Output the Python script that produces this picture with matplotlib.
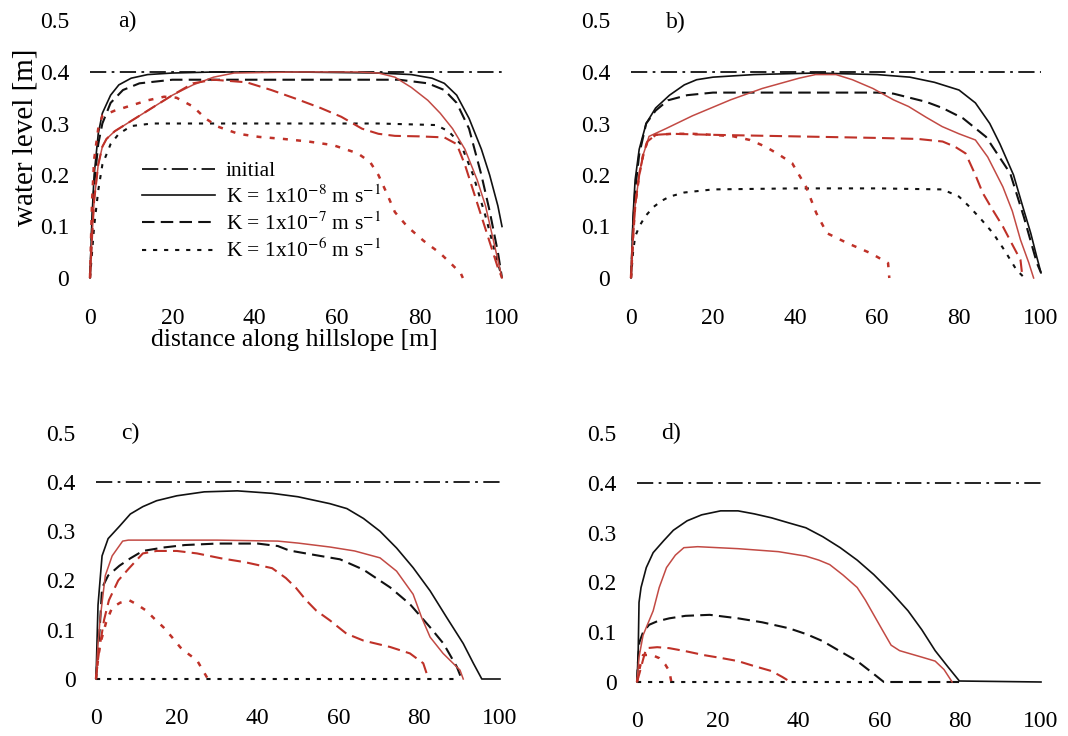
import matplotlib
matplotlib.use("Agg")
import matplotlib.pyplot as plt
from matplotlib.lines import Line2D

plt.rcParams["font.family"] = ["Liberation Serif", "DejaVu Serif"]
plt.rcParams["mathtext.fontset"] = "stix"

# ---------------- data ----------------
X_TICKS = [0, 20, 40, 60, 80, 100]
Y_TICKS = [0, 0.1, 0.2, 0.3, 0.4, 0.5]
Y_TICK_LABELS = ["0", "0.1", "0.2", "0.3", "0.4", "0.5"]
INITIAL_X = [0, 100]
INITIAL_Y = [0.4, 0.4]
LEGEND_LABELS = ["initial",
                 r"K = 1x10$^{-8}$ m s$^{-1}$",
                 r"K = 1x10$^{-7}$ m s$^{-1}$",
                 r"K = 1x10$^{-6}$ m s$^{-1}$"]

# panel a
a_k8_x = [0, 0.5, 1, 2, 3, 5, 7, 10, 14, 20, 30, 50, 70, 78, 83, 86, 89, 92, 95, 97, 99, 100]
a_k8_y = [0, 0.12, 0.2, 0.28, 0.32, 0.355, 0.375, 0.388, 0.395, 0.398, 0.4, 0.4, 0.398, 0.395,
          0.388, 0.378, 0.355, 0.31, 0.25, 0.2, 0.14, 0.1]
a_k7_x = [0, 0.5, 1, 2, 3, 5, 8, 12, 20, 40, 60, 75, 82, 86, 89, 92, 95, 97, 99, 100]
a_k7_y = [0, 0.1, 0.18, 0.26, 0.3, 0.34, 0.365, 0.378, 0.385, 0.385, 0.385, 0.385, 0.378,
          0.365, 0.34, 0.29, 0.2, 0.13, 0.05, 0.0]
a_k6_x = [0, 1, 2, 3, 5, 7, 10, 15, 30, 50, 70, 84, 87, 90, 93, 96, 98, 100]
a_k6_y = [0, 0.1, 0.17, 0.22, 0.26, 0.28, 0.295, 0.3, 0.3, 0.3, 0.3, 0.297, 0.285, 0.26, 0.2,
          0.12, 0.06, 0.0]
a_r8_x = [0, 0.5, 1, 2, 3, 4, 6, 10, 15, 20, 25, 30, 35, 50, 65, 70, 74, 78, 82, 85, 88, 91,
          94, 96, 98, 100]
a_r8_y = [0, 0.08, 0.15, 0.22, 0.255, 0.27, 0.285, 0.305, 0.33, 0.355, 0.375, 0.39, 0.398, 0.4,
          0.4, 0.398, 0.39, 0.37, 0.345, 0.32, 0.29, 0.25, 0.19, 0.14, 0.07, 0.0]
a_r7_x = [0, 0.5, 1, 2, 3, 4, 6, 10, 15, 20, 25, 30, 38, 44, 50, 56, 61, 66, 70, 74, 80, 86,
          89, 91, 93, 95, 97, 99, 100]
a_r7_y = [0, 0.08, 0.15, 0.22, 0.255, 0.27, 0.285, 0.305, 0.33, 0.355, 0.378, 0.385, 0.38,
          0.365, 0.348, 0.33, 0.313, 0.29, 0.28, 0.276, 0.275, 0.273, 0.26, 0.22, 0.17, 0.12,
          0.07, 0.02, 0.0]
a_r6_x = [0, 0.5, 1, 2, 3, 6, 10, 14, 18, 21, 25, 28, 31, 36, 41, 47, 53, 59, 65, 68, 70, 72,
          74, 77, 81, 85, 88, 90, 90.5]
a_r6_y = [0, 0.15, 0.23, 0.29, 0.315, 0.325, 0.335, 0.345, 0.352, 0.35, 0.333, 0.31, 0.294,
          0.28, 0.274, 0.27, 0.265, 0.258, 0.242, 0.225, 0.2, 0.165, 0.128, 0.1, 0.072, 0.048,
          0.025, 0.009, 0.0]

# panel b
b_k8_x = [0, 0.5, 1, 2, 3.7, 6, 9.4, 13, 16, 20, 30, 45, 60, 68, 74, 80, 84, 87.5, 90, 93.3,
          95.5, 97.5, 99, 100]
b_k8_y = [0, 0.12, 0.19, 0.25, 0.3, 0.33, 0.355, 0.375, 0.385, 0.39, 0.395, 0.398, 0.395,
          0.39, 0.38, 0.365, 0.34, 0.3, 0.26, 0.2, 0.14, 0.087, 0.04, 0.01]
b_k7_x = [0, 0.5, 1, 2, 3.7, 6, 9, 13.7, 20, 30, 45, 60, 64, 68, 72, 76, 81, 86.6, 92.5, 95.8,
          99, 100]
b_k7_y = [0, 0.1, 0.17, 0.24, 0.3, 0.325, 0.345, 0.355, 0.36, 0.36, 0.36, 0.36, 0.358, 0.35,
          0.342, 0.33, 0.31, 0.274, 0.203, 0.119, 0.029, 0.01]
b_k6_x = [0, 0.5, 1, 2, 3.5, 5.5, 7.5, 9.4, 13, 20, 40, 60, 76, 80, 82.6, 85.5, 88.3, 91, 94, 96]
b_k6_y = [0, 0.05, 0.08, 0.1, 0.12, 0.138, 0.15, 0.158, 0.166, 0.172, 0.174, 0.174, 0.172,
          0.158, 0.138, 0.113, 0.087, 0.055, 0.016, 0.0]
b_r8_x = [0, 0.5, 1, 2, 3, 4.4, 8.5, 15, 24.3, 32, 41, 45, 50, 54, 59, 64, 67.7, 72, 75.9, 80,
          84, 87, 90.7, 93, 95, 97, 98.2]
b_r8_y = [0, 0.08, 0.14, 0.2, 0.24, 0.275, 0.29, 0.315, 0.346, 0.368, 0.388, 0.395, 0.395,
          0.385, 0.368, 0.346, 0.333, 0.312, 0.294, 0.28, 0.268, 0.235, 0.177, 0.13, 0.074,
          0.03, 0.0]
b_r7_x = [0, 0.5, 1, 2, 3, 4, 6, 10, 20, 40, 60, 70, 76, 79, 81.6, 84, 85.8, 88, 90.7, 93, 95,
          95.5]
b_r7_y = [0, 0.08, 0.14, 0.2, 0.24, 0.265, 0.278, 0.28, 0.278, 0.275, 0.272, 0.27, 0.265,
          0.255, 0.242, 0.2, 0.165, 0.135, 0.1, 0.065, 0.035, 0.0]
b_r6_x = [0, 0.5, 1, 2, 3, 4, 6, 10, 15, 20, 25, 29, 32.8, 36, 39.3, 41, 42.7, 45.2, 47.8,
          52.7, 58.5, 62.7, 63]
b_r6_y = [0, 0.08, 0.14, 0.2, 0.24, 0.265, 0.278, 0.28, 0.28, 0.278, 0.275, 0.268, 0.255,
          0.24, 0.223, 0.2, 0.177, 0.126, 0.087, 0.068, 0.048, 0.029, 0.0]

# panel c
c_k8_x = [0, 0.5, 1.5, 3, 5.8, 8.5, 11.6, 15, 20, 26.8, 35, 43.6, 50, 57.9, 62.1, 66.2, 70.3,
          74.4, 78.5, 82.7, 86.8, 90.9, 93.4, 95.5, 100]
c_k8_y = [0, 0.15, 0.25, 0.285, 0.31, 0.335, 0.35, 0.362, 0.372, 0.38, 0.382, 0.377, 0.37,
          0.356, 0.346, 0.326, 0.3, 0.266, 0.226, 0.179, 0.125, 0.072, 0.032, 0.0, 0.0]
c_k7_x = [0, 0.5, 0.9, 1.5, 3, 5.8, 8.5, 11.6, 16.7, 22, 30, 40, 45, 47.8, 54, 60.4, 66.2,
          72.8, 77.7, 82.7, 86, 89.3, 90.5]
c_k7_y = [0, 0.06, 0.1, 0.185, 0.21, 0.23, 0.245, 0.26, 0.267, 0.272, 0.275, 0.275, 0.27,
          0.261, 0.252, 0.243, 0.222, 0.186, 0.152, 0.105, 0.072, 0.025, 0.0]
c_k6_x = [0, 90]
c_k6_y = [0, 0]
c_r8_x = [0, 0.5, 1, 2.3, 4, 6.6, 8, 20, 30, 45, 50, 57.9, 64, 70.3, 74.4, 78.5, 80.6, 82.7,
          85.9, 90.1, 90.9]
c_r8_y = [0, 0.07, 0.12, 0.21, 0.25, 0.28, 0.282, 0.282, 0.282, 0.28, 0.276, 0.268, 0.26,
          0.246, 0.219, 0.172, 0.125, 0.085, 0.052, 0.018, 0.0]
c_r7_x = [0, 0.5, 1, 2, 3.2, 5.5, 8.2, 11.6, 15, 20, 25, 31, 37, 43.6, 47, 49.5, 52, 54.5,
          57.9, 62, 66.2, 72.8, 77.7, 81, 82.3]
c_r7_y = [0, 0.04, 0.07, 0.12, 0.16, 0.2, 0.225, 0.255, 0.26, 0.26, 0.255, 0.245, 0.237,
          0.225, 0.205, 0.185, 0.16, 0.139, 0.119, 0.092, 0.078, 0.065, 0.052, 0.032, 0.0]
c_r6_x = [0, 0.5, 1, 2.5, 4, 6, 8.2, 10, 12.4, 14.5, 16.7, 18.8, 20.9, 23, 25, 27.7]
c_r6_y = [0, 0.04, 0.07, 0.115, 0.145, 0.155, 0.16, 0.152, 0.139, 0.122, 0.105, 0.085, 0.064,
          0.05, 0.038, 0.0]

# panel d
d_k8_x = [0, 0.3, 0.5, 1, 2.3, 4, 6.6, 9, 12.4, 16, 20.7, 25, 29, 33.3, 37.5, 41.8, 46, 50.3,
          54.5, 58.6, 63, 67.1, 70.5, 73.8, 77, 79.8, 100]
d_k8_y = [0, 0.062, 0.16, 0.19, 0.23, 0.26, 0.284, 0.305, 0.324, 0.336, 0.344, 0.344, 0.338,
          0.33, 0.32, 0.31, 0.292, 0.27, 0.245, 0.216, 0.18, 0.143, 0.105, 0.063, 0.03, 0.002,
          0.0]
d_k7_x = [0, 0.3, 0.6, 1.5, 3, 5, 8, 12, 18, 25, 31, 37.6, 42, 46, 50, 54.5, 58, 61.1, 80]
d_k7_y = [0, 0.05, 0.08, 0.1, 0.115, 0.122, 0.128, 0.133, 0.135, 0.128, 0.12, 0.108, 0.096,
          0.082, 0.063, 0.042, 0.02, 0.0, 0.0]
d_k6_x = [0, 60]
d_k6_y = [0, 0]
d_r8_x = [0, 0.5, 1.5, 4, 5.5, 7.3, 9.5, 11.6, 15, 25, 35, 41.8, 45, 47.7, 51, 54.5, 56.5,
          58.6, 60.7, 62.9, 65, 67.1, 70.5, 73.8, 76, 78]
d_r8_y = [0, 0.05, 0.094, 0.143, 0.19, 0.23, 0.255, 0.27, 0.272, 0.268, 0.262, 0.253, 0.245,
          0.236, 0.215, 0.19, 0.165, 0.135, 0.105, 0.074, 0.063, 0.058, 0.05, 0.042, 0.025, 0.0]
d_r7_x = [0, 0.7, 1.5, 2.3, 5, 8, 12, 16.6, 21, 25, 29, 33.3, 36, 38]
d_r7_y = [0, 0.02, 0.045, 0.068, 0.07, 0.068, 0.062, 0.054, 0.048, 0.042, 0.032, 0.022, 0.01,
          0.0]
d_r6_x = [0, 0.7, 1.5, 3.5, 5.5, 7, 8, 8.5]
d_r6_y = [0, 0.03, 0.054, 0.055, 0.048, 0.035, 0.022, 0.0]

# ---------------- styling ----------------
W, H = 1068, 736
XLIM = (-2, 102)
YLIM = (-0.02, 0.52)
BLACK = "#111111"
RED = "#bf3128"
RED_SOLID = "#c24a44"
DASHDOT = (0, (9, 3, 1.5, 3))
DASHED = (0, (6, 3))
DOTTED = (0, (2, 3.3))


def place(x0, x100, y0, y04):
    # pixel anchors of x=0, x=100, y=0, y=0.4 -> axes rectangle
    sx = (x100 - x0) / 100
    sy = (y0 - y04) / 0.4
    left = x0 + XLIM[0] * sx
    right = x0 + XLIM[1] * sx
    bottom = y0 - YLIM[0] * sy
    top = y0 - YLIM[1] * sy
    return [left / W, 1 - bottom / H, (right - left) / W, (bottom - top) / H]


fig = plt.figure(figsize=(W / 100, H / 100), dpi=100)

panels = [
    ("a)", (90, 502, 278, 72), (127, 21),
     [(a_k8_x, a_k8_y), (a_k7_x, a_k7_y), (a_k6_x, a_k6_y)],
     [(a_r8_x, a_r8_y), (a_r7_x, a_r7_y), (a_r6_x, a_r6_y)]),
    ("b)", (631, 1041, 278, 72), (676, 22),
     [(b_k8_x, b_k8_y), (b_k7_x, b_k7_y), (b_k6_x, b_k6_y)],
     [(b_r8_x, b_r8_y), (b_r7_x, b_r7_y), (b_r6_x, b_r6_y)]),
    ("c)", (96, 500, 679, 482), (130, 433),
     [(c_k8_x, c_k8_y), (c_k7_x, c_k7_y), (c_k6_x, c_k6_y)],
     [(c_r8_x, c_r8_y), (c_r7_x, c_r7_y), (c_r6_x, c_r6_y)]),
    ("d)", (637, 1041, 682, 483), (671, 433),
     [(d_k8_x, d_k8_y), (d_k7_x, d_k7_y), (d_k6_x, d_k6_y)],
     [(d_r8_x, d_r8_y), (d_r7_x, d_r7_y), (d_r6_x, d_r6_y)]),
]

styles = [("-", 1.2), (DASHED, 1.5), (DOTTED, 1.5)]
red_styles = [(RED_SOLID, "-", 1.1), (RED, DASHED, 1.5), (RED, DOTTED, 1.8)]

for label, anchors, lab_pos, black, red in panels:
    ax = fig.add_axes(place(*anchors))
    ax.plot(INITIAL_X, INITIAL_Y, color=BLACK, ls=DASHDOT, lw=1.3)
    for (xs, ys), (ls, lw) in zip(black, styles):
        ax.plot(xs, ys, color=BLACK, ls=ls, lw=lw)
    for (xs, ys), (col, ls, lw) in zip(red, red_styles):
        ax.plot(xs, ys, color=col, ls=ls, lw=lw)
    ax.set_xlim(*XLIM)
    ax.set_ylim(*YLIM)
    ax.set_xticks(X_TICKS)
    ax.set_xticklabels([str(t) for t in X_TICKS])
    ax.set_yticks(Y_TICKS)
    ax.set_yticklabels(Y_TICK_LABELS)
    ax.tick_params(axis="x", length=0, pad=14, labelsize=17)
    ax.tick_params(axis="y", length=0, pad=9, labelsize=17)
    for s in ax.spines.values():
        s.set_visible(False)
    ax.patch.set_alpha(0)
    fig.text(lab_pos[0] / W, 1 - lab_pos[1] / H, label, fontsize=17,
             ha="center", va="center")

handles = [Line2D([], [], color=BLACK, ls=DASHDOT, lw=1.3),
           Line2D([], [], color=BLACK, ls="-", lw=1.2),
           Line2D([], [], color=BLACK, ls=DASHED, lw=1.5),
           Line2D([], [], color=BLACK, ls=DOTTED, lw=1.5)]
fig.legend(handles, LEGEND_LABELS, loc="upper left",
           bbox_to_anchor=(142 / W, 1 - 161 / H), bbox_transform=fig.transFigure,
           frameon=False, fontsize=15.5, handlelength=3.4, handletextpad=0.5,
           labelspacing=0.2, borderpad=0, borderaxespad=0)

fig.text(26 / W, 1 - 137 / H, "water level [m]", rotation=90, fontsize=21,
         ha="center", va="center")
fig.text(294 / W, 1 - 340 / H, "distance along hillslope [m]", fontsize=18.5,
         ha="center", va="center")

fig.savefig("out.png", dpi=100)
